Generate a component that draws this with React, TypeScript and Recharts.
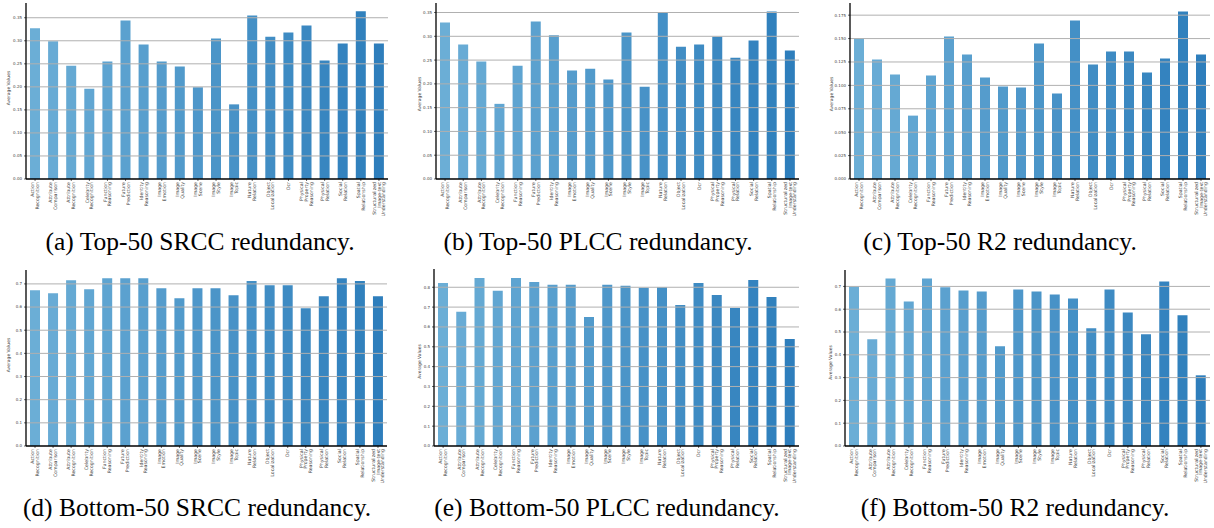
import { Bar, BarChart, Cell, ReferenceLine, XAxis, YAxis } from "recharts";

const categories = [
  "Action\nRecognition",
  "Attribute\nComparison",
  "Attribute\nRecognition",
  "Celebrity\nRecognition",
  "Function\nReasoning",
  "Future\nPrediction",
  "Identity\nReasoning",
  "Image\nEmotion",
  "Image\nQuality",
  "Image\nScene",
  "Image\nStyle",
  "Image\nTopic",
  "Nature\nRelation",
  "Object\nLocalization",
  "Ocr",
  "Physical\nProperty\nReasoning",
  "Physical\nRelation",
  "Social\nRelation",
  "Spatial\nRelationship",
  "Structuralized\nImage-text\nUnderstanding",
];

const top50Srcc = [
  0.327, 0.299, 0.246, 0.196, 0.255, 0.344, 0.292, 0.255, 0.244, 0.199,
  0.305, 0.162, 0.355, 0.309, 0.318, 0.333, 0.257, 0.294, 0.364, 0.294,
];
const top50Plcc = [
  0.329, 0.283, 0.247, 0.158, 0.238, 0.331, 0.302, 0.228, 0.232, 0.209,
  0.308, 0.194, 0.35, 0.278, 0.283, 0.299, 0.255, 0.291, 0.352, 0.27,
];
const top50R2 = [
  0.15, 0.1276, 0.1116, 0.0677, 0.1105, 0.1522, 0.1329, 0.1084, 0.0987, 0.0977,
  0.1447, 0.0912, 0.1693, 0.1223, 0.1362, 0.1362, 0.1137, 0.1287, 0.1789, 0.1329,
];
const bottom50Srcc = [
  0.673, 0.66, 0.716, 0.677, 0.724, 0.724, 0.724, 0.681, 0.638, 0.681,
  0.681, 0.651, 0.712, 0.694, 0.694, 0.595, 0.647, 0.724, 0.712, 0.647,
];
const bottom50Plcc = [
  0.822, 0.676, 0.847, 0.782, 0.847, 0.827, 0.812, 0.812, 0.65, 0.812,
  0.807, 0.797, 0.8, 0.711, 0.822, 0.761, 0.696, 0.837, 0.751, 0.539,
];
const bottom50R2 = [
  0.7, 0.468, 0.735, 0.634, 0.735, 0.696, 0.682, 0.678, 0.4375, 0.687,
  0.678, 0.665, 0.6475, 0.516, 0.687, 0.586, 0.49, 0.722, 0.573, 0.31,
];

const ticksCc = [0, 0.05, 0.1, 0.15, 0.2, 0.25, 0.3, 0.35];
const ticksR2 = [0, 0.025, 0.05, 0.075, 0.1, 0.125, 0.15, 0.175];
const ticksBottom7 = [0, 0.1, 0.2, 0.3, 0.4, 0.5, 0.6, 0.7];
const ticksBottom8 = [0, 0.1, 0.2, 0.3, 0.4, 0.5, 0.6, 0.7, 0.8];

const FONT = "DejaVu Sans";

// Blues colormap, 0.5 -> 0.7
function barColor(i: number) {
  const t = i / (categories.length - 1);
  const a = [107, 174, 214];
  const b = [46, 126, 188];
  const c = a.map((v, k) => Math.round(v + (b[k] - v) * t));
  return `rgb(${c[0]},${c[1]},${c[2]})`;
}

const CategoryTick = (props: any) => {
  const { x, y, payload } = props;
  const lines = String(payload.value).split("\n");
  const lh = 4.8;
  return (
    <text
      transform={`translate(${x},${y}) rotate(-90)`}
      textAnchor="end"
      fontSize={4.7}
      fill="#444"
      fontFamily={FONT}
    >
      {lines.map((l, i) => (
        <tspan key={i} x={0} y={(i - (lines.length - 1) / 2) * lh + 1.6}>
          {l}
        </tspan>
      ))}
    </text>
  );
};

type PanelProps = {
  values: number[];
  ticks: number[];
  max: number;
  digits: number;
  left: number;
  top: number;
  width: number;
  yWidth: number;
  mt: number;
  mr: number;
  xh: number;
  labelX: number;
};

function Panel(p: PanelProps) {
  const data = categories.map((name, i) => ({ name, value: p.values[i] }));
  const height = 240;
  const cy = p.mt + (height - p.mt - p.xh) / 2;
  return (
    <div style={{ position: "absolute", left: p.left, top: p.top }}>
      <BarChart
        width={p.width}
        height={height}
        data={data}
        margin={{ top: p.mt, right: p.mr, bottom: 0, left: 0 }}
      >
        <XAxis
          dataKey="name"
          interval={0}
          height={p.xh}
          tick={<CategoryTick />}
          tickSize={2}
          tickMargin={1}
          tickLine={{ stroke: "#000", strokeWidth: 0.6 }}
          axisLine={{ stroke: "#000", strokeWidth: 1.3 }}
        />
        <XAxis
          xAxisId="top"
          orientation="top"
          dataKey="name"
          height={0}
          tick={false}
          tickLine={false}
          axisLine={{ stroke: "#555", strokeWidth: 1.5 }}
        />
        <YAxis
          width={p.yWidth}
          domain={[0, p.max]}
          ticks={p.ticks}
          interval={0}
          tickFormatter={(v) => Number(v).toFixed(p.digits)}
          tick={{ fontSize: 4, fill: "#444", fontFamily: FONT }}
          tickSize={2}
          tickMargin={2}
          tickLine={{ stroke: "#000", strokeWidth: 0.6 }}
          axisLine={{ stroke: "#000", strokeWidth: 1.3 }}
          label={
            <text
              x={p.labelX}
              y={cy}
              transform={`rotate(-90, ${p.labelX}, ${cy})`}
              textAnchor="middle"
              fontSize={4.5}
              fill="#444"
              fontFamily={FONT}
            >
              Average Values
            </text>
          }
        />
        <YAxis
          yAxisId="right"
          orientation="right"
          width={0}
          tick={false}
          tickLine={false}
          axisLine={{ stroke: "#555", strokeWidth: 1.5 }}
        />
        <Bar dataKey="value" barSize={10} isAnimationActive={false}>
          {data.map((_, i) => (
            <Cell key={i} fill={barColor(i)} />
          ))}
        </Bar>
        {p.ticks.slice(1).map((t) => (
          <ReferenceLine key={t} y={t} stroke="#b0b0b0" strokeWidth={1} />
        ))}
      </BarChart>
    </div>
  );
}

const captions = [
  { text: "(a) Top-50 SRCC redundancy.", x: 200, y: 250 },
  { text: "(b) Top-50 PLCC redundancy.", x: 598, y: 250 },
  { text: "(c) Top-50 R2 redundancy.", x: 1000, y: 250 },
  { text: "(d) Bottom-50 SRCC redundancy.", x: 197, y: 516 },
  { text: "(e) Bottom-50 PLCC redundancy.", x: 607, y: 516 },
  { text: "(f) Bottom-50 R2 redundancy.", x: 1015, y: 516 },
];

export default function App() {
  return (
    <div style={{ position: "absolute", left: 0, top: 0, width: 1214, height: 528, background: "#fff" }}>
      <Panel values={top50Srcc} ticks={ticksCc} max={0.382} digits={2} left={0} top={0} width={400} yWidth={26} mt={3} mr={12} xh={61} labelX={10} />
      <Panel values={top50Plcc} ticks={ticksCc} max={0.37} digits={2} left={400} top={0} width={410} yWidth={36} mt={3} mr={11} xh={61} labelX={21} />
      <Panel values={top50R2} ticks={ticksR2} max={0.188} digits={3} left={810} top={0} width={404} yWidth={40} mt={3} mr={4} xh={61} labelX={23} />
      <Panel values={bottom50Srcc} ticks={ticksBottom7} max={0.76} digits={1} left={0} top={265} width={400} yWidth={26} mt={5} mr={13} xh={59} labelX={10} />
      <Panel values={bottom50Plcc} ticks={ticksBottom8} max={0.892} digits={1} left={400} top={265} width={410} yWidth={34} mt={4} mr={11} xh={59} labelX={21} />
      <Panel values={bottom50R2} ticks={ticksBottom7} max={0.772} digits={1} left={810} top={265} width={404} yWidth={35} mt={5} mr={4} xh={59} labelX={22} />
      <svg width={1214} height={528} style={{ position: "absolute", left: 0, top: 0, pointerEvents: "none" }}>
        {captions.map((c) => (
          <text key={c.text} x={c.x} y={c.y} textAnchor="middle" fontSize={25.5} fontFamily="Liberation Serif" fill="#000">
            {c.text}
          </text>
        ))}
      </svg>
    </div>
  );
}
